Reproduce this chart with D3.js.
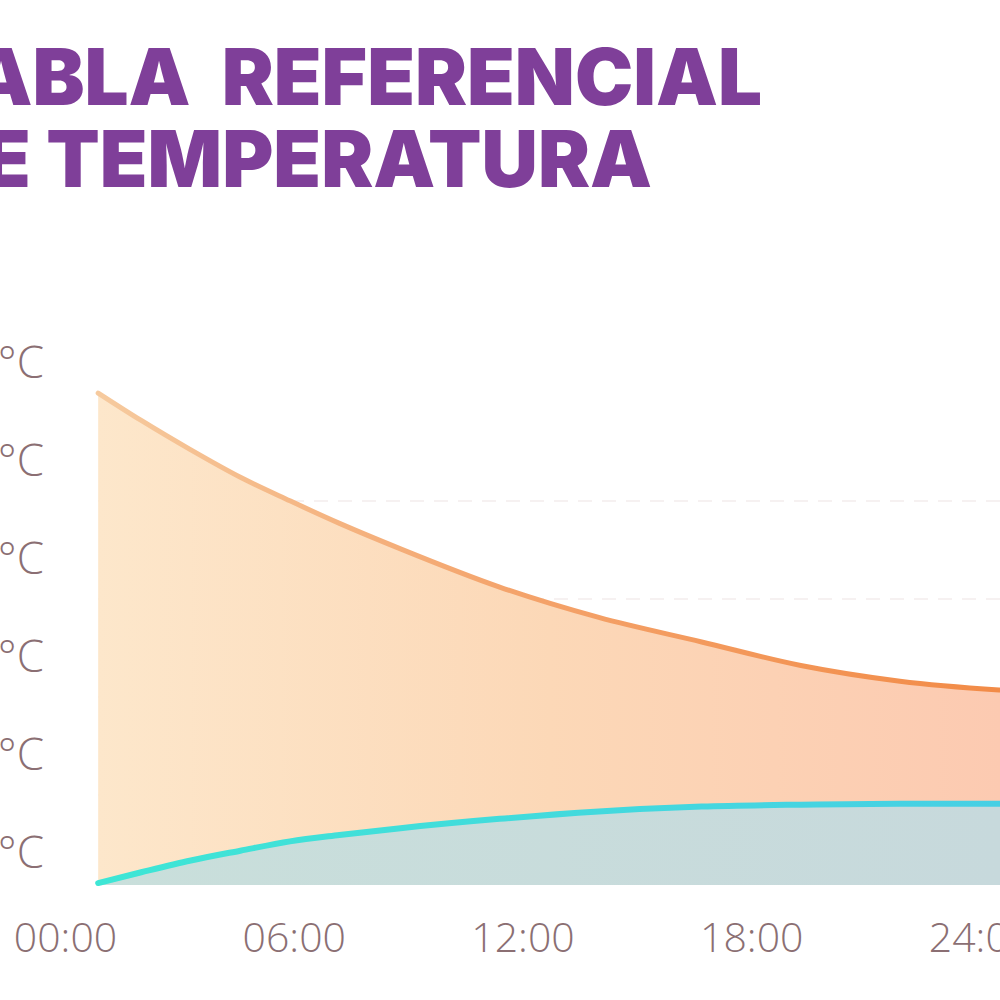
<!DOCTYPE html>
<html>
<head>
<meta charset="utf-8">
<script src="https://d3js.org/d3.v7.min.js"></script>
<style>
  html, body { margin: 0; padding: 0; background: #fff; overflow: hidden; }
  svg { display: block; }
</style>
</head>
<body>
<div id="chart"></div>
<script>
// data (hours of the day, temperatures in °C)
const hours    = [0.87, 2.0, 3.3, 4.6, 5.9, 7.2, 8.8, 11.4, 14.0, 16.7, 19.3, 21.9, 24.5, 26.5];
const hotTemp  = [50.2, 47.4, 44.4, 41.6, 39.2, 36.9, 34.3, 30.4, 27.3, 24.8, 22.4, 20.8, 19.9, 19.5];
const coldTemp = [0.2, 1.3, 2.5, 3.5, 4.45, 5.1, 5.8, 6.75, 7.5, 8.0, 8.2, 8.3, 8.3, 8.3];

const tempTicks = [0, 10, 20, 30, 40, 50];
const timeTicks = [0, 6, 12, 18, 24];
const timeLabels = ["00:00", "06:00", "12:00", "18:00", "24:00"];
const titleLines = ["TABLA  REFERENCIAL", "DE TEMPERATURA"];

const W = 1000, H = 1000;

const svg = d3.select("#chart").append("svg")
  .attr("width", W)
  .attr("height", H);

const defs = svg.append("defs");

function hGrad(id, stops) {
  const g = defs.append("linearGradient")
    .attr("id", id)
    .attr("gradientUnits", "userSpaceOnUse")
    .attr("x1", 98).attr("x2", 1000)
    .attr("y1", 0).attr("y2", 0);
  stops.forEach(([o, c]) => g.append("stop").attr("offset", o).attr("stop-color", c));
}
hGrad("hotFill", [[0, "#fde7cb"], [0.5, "#fcd8b7"], [1, "#fccab1"]]);
hGrad("hotLine", [[0, "#f6ca9e"], [0.45, "#f4a46c"], [1, "#f28b47"]]);
hGrad("coldFill", [[0, "#c9dfdb"], [1, "#c7d9dc"]]);
hGrad("coldLine", [[0, "#3ee6d5"], [1, "#47cfe4"]]);

const x = d3.scaleLinear().domain([0, 24]).range([65, 980]);
const y = d3.scaleLinear().domain([0, 50]).range([885, 395]);

const hot = hours.map((h, i) => ({ h: h, t: hotTemp[i] }));
const cold = hours.map((h, i) => ({ h: h, t: coldTemp[i] }));

// faint dashed grid
svg.append("g")
  .selectAll("line")
  .data(tempTicks.slice(1, -1))
  .enter()
  .append("line")
  .attr("x1", 98).attr("x2", W)
  .attr("y1", d => y(d) + 8).attr("y2", d => y(d) + 8)
  .attr("stroke", "#f6f1f1")
  .attr("stroke-width", 2)
  .attr("stroke-dasharray", "14,10");

const area = d3.area()
  .x(d => x(d.h))
  .y0(y(0))
  .y1(d => y(d.t))
  .curve(d3.curveMonotoneX);

const line = d3.line()
  .x(d => x(d.h))
  .y(d => y(d.t))
  .curve(d3.curveMonotoneX);

svg.append("path").datum(hot).attr("d", area).attr("fill", "url(#hotFill)");
svg.append("path").datum(cold).attr("d", area).attr("fill", "url(#coldFill)");

svg.append("path").datum(hot).attr("d", line)
  .attr("fill", "none")
  .attr("stroke", "url(#hotLine)")
  .attr("stroke-width", 5)
  .attr("stroke-linecap", "round");

svg.append("path").datum(cold).attr("d", line)
  .attr("fill", "none")
  .attr("stroke", "url(#coldLine)")
  .attr("stroke-width", 6)
  .attr("stroke-linecap", "round");

// y axis (labels sit above their value)
const yAxis = svg.append("g")
  .attr("transform", "translate(44,0)")
  .call(d3.axisLeft(y).tickValues(tempTicks).tickFormat(d => d + "°C").tickSize(0).tickPadding(0));
yAxis.select(".domain").remove();
yAxis.selectAll("text")
  .attr("dy", "-18px")
  .attr("fill", "#8b6f73")
  .style("font-family", "'Open Sans', sans-serif")
  .style("font-weight", 300)
  .style("font-size", "44px");

// x axis
const xAxis = svg.append("g")
  .attr("transform", "translate(0," + y(0) + ")")
  .call(d3.axisBottom(x).tickValues(timeTicks).tickFormat((d, i) => timeLabels[i]).tickSize(0));
xAxis.select(".domain").remove();
xAxis.selectAll("text")
  .attr("y", 67)
  .attr("dy", 0)
  .attr("fill", "#8b6f73")
  .style("font-family", "'Open Sans', sans-serif")
  .style("font-weight", 300)
  .style("font-size", "41px");

// title, right aligned so the left part runs off the page like the reference
const titleRight = [762, 652];
const titleBase = [105, 187];
svg.append("g")
  .selectAll("text")
  .data(titleLines)
  .enter()
  .append("text")
  .attr("x", (d, i) => titleRight[i])
  .attr("y", (d, i) => titleBase[i])
  .attr("text-anchor", "end")
  .attr("fill", "#7f3f99")
  .style("font-family", "Inter, sans-serif")
  .style("font-weight", 900)
  .style("font-size", "78px")
  .style("white-space", "pre")
  .text(d => d);
</script>
</body>
</html>
